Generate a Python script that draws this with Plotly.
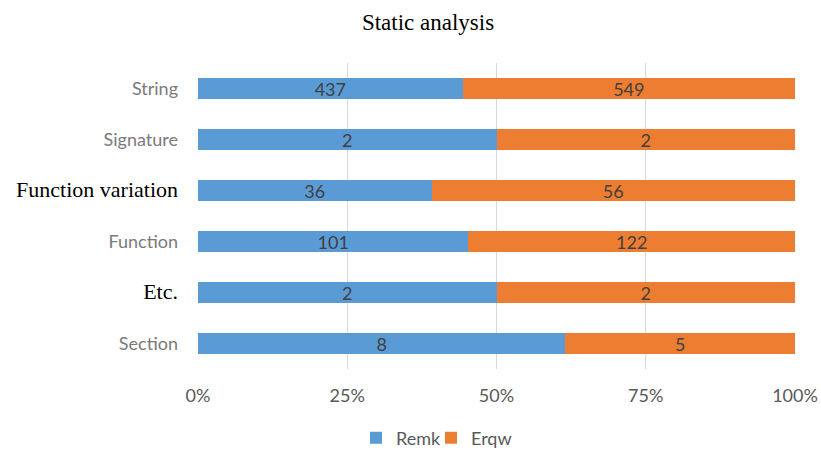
import plotly.graph_objects as go

categories = ["String", "Signature", "Function variation", "Function", "Etc.", "Section"]
remk = [437, 2, 36, 101, 2, 8]
erqw = [549, 2, 56, 122, 2, 5]
x_ticks = [0, 25, 50, 75, 100]
x_tick_labels = ["0%", "25%", "50%", "75%", "100%"]

SANS = "Lato, 'Open Sans', sans-serif"
SERIF = "'Liberation Serif', 'Times New Roman', serif"
serif_labels = {"Function variation", "Etc."}

# category labels: two of them are set in a serif face, the rest in the chart's sans
tick_text = []
for c in categories:
    if c in serif_labels:
        tick_text.append(
            f'<span style="font-family:Liberation Serif;font-size:22px;fill:#000000">{c}</span>'
        )
    else:
        tick_text.append(c)

series = [
    ("Remk", remk, "#5B9BD5", "legend"),
    ("Erqw", erqw, "#ED7D31", "legend2"),
]

fig = go.Figure()
for name, vals, color, leg in series:
    fig.add_trace(
        go.Bar(
            y=categories,
            x=vals,
            name=name,
            orientation="h",
            marker=dict(color=color, line=dict(width=0)),
            text=[str(v) for v in vals],
            textposition="inside",
            insidetextanchor="middle",
            textangle=0,
            constraintext="none",
            textfont=dict(family=SANS, size=18, color="#404040"),
            width=0.41,
            legend=leg,
            showlegend=True,
        )
    )

legend_common = dict(
    orientation="h",
    xref="container",
    yref="container",
    xanchor="left",
    y=1 - 438 / 452,
    yanchor="middle",
    font=dict(family=SANS, size=18, color="#595959"),
    bgcolor="rgba(0,0,0,0)",
    visible=True,
)

fig.update_layout(
    barmode="stack",
    barnorm="percent",
    showlegend=True,
    width=821,
    height=452,
    margin=dict(l=198, r=26, t=63, b=83, autoexpand=False),
    paper_bgcolor="white",
    plot_bgcolor="white",
    title=dict(
        text="Static analysis",
        font=dict(family=SERIF, size=23, color="#000000"),
        x=428 / 821,
        xanchor="center",
        xref="container",
        y=1 - 22 / 452,
        yanchor="middle",
        yref="container",
    ),
    legend=dict(x=356 / 821, **legend_common),
    legend2=dict(x=431 / 821, **legend_common),
    uniformtext=dict(mode=False),
)

fig.update_xaxes(
    range=[0, 100],
    tickvals=x_ticks,
    ticktext=x_tick_labels,
    showgrid=True,
    gridcolor="#D9D9D9",
    gridwidth=1,
    zeroline=False,
    showline=False,
    ticks="",
    ticklabelstandoff=14,
    automargin=False,
    tickfont=dict(family=SANS, size=18, color="#595959"),
    fixedrange=True,
)

fig.update_yaxes(
    categoryorder="array",
    categoryarray=categories[::-1],
    tickmode="array",
    tickvals=categories,
    ticktext=tick_text,
    showgrid=False,
    zeroline=False,
    showline=False,
    ticks="",
    ticklabelstandoff=19,
    automargin=False,
    tickfont=dict(family=SANS, size=18, color="#7A7A7A"),
    fixedrange=True,
)

fig.write_html("out.html")
